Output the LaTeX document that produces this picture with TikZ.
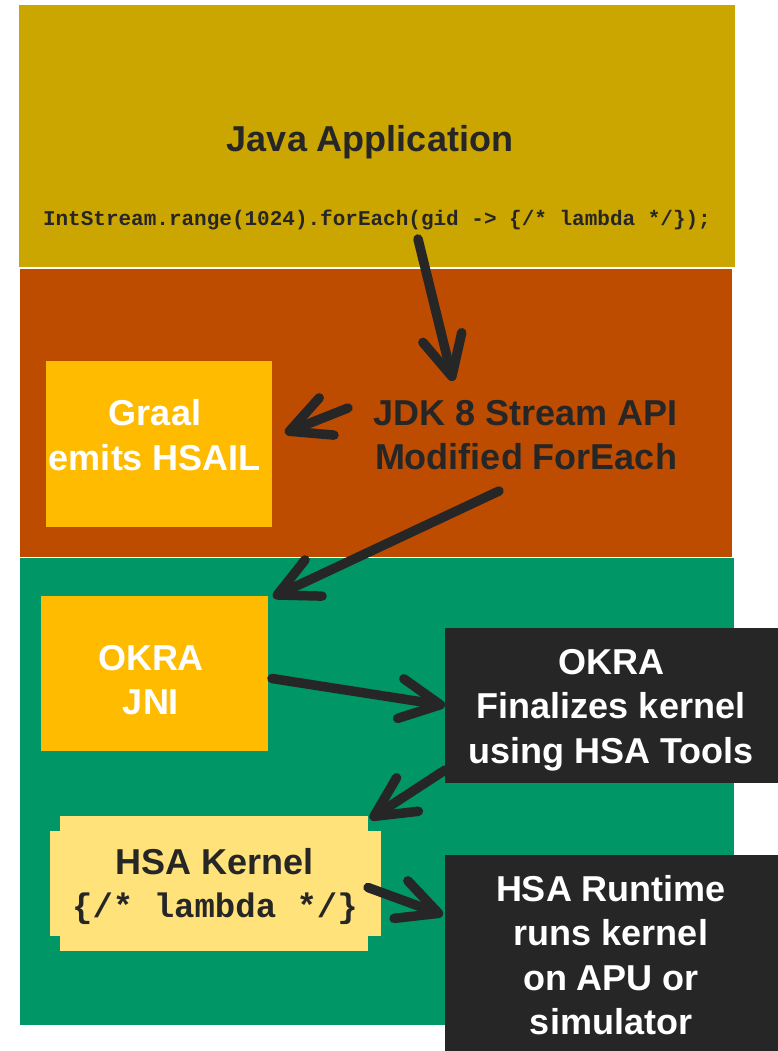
\documentclass[tikz,border=0pt]{standalone}
\usepackage{fontspec}
\setmainfont{Liberation Sans}
\setmonofont{Liberation Mono}
\usetikzlibrary{arrows.meta,calc}

\definecolor{javayellow}{RGB}{204,166,0}
\definecolor{streamorange}{RGB}{189,76,0}
\definecolor{okragreen}{RGB}{0,150,102}
\definecolor{boxgold}{RGB}{255,187,0}
\definecolor{kernelyellow}{RGB}{255,226,122}
\definecolor{darkgrey}{RGB}{38,38,38}

\begin{document}
\begin{tikzpicture}[
        % pixel-like units, y pointing down
        x=1pt, y=-1pt,
        %
        panel/.style={anchor=north west, inner sep=0pt, outer sep=0pt},
        stepbox/.style={inner sep=0pt, outer sep=0pt},
        bigtext/.style={font=\fontsize{36}{44.5}\selectfont\bfseries,
            align=center, text=darkgrey},
        lighttext/.style={bigtext, text=white},
        codetext/.style={font=\ttfamily\bfseries, text=darkgrey},
        flow/.style={draw=darkgrey, line width=9.5pt, line cap=round,
            -{Straight Barb[round,length=40pt,width=40pt]}}
    ]

        % Fix the page size
        \useasboundingbox (0,0) rectangle (778,1051);

        % Draw the three layers
        \node[panel, fill=javayellow, minimum width=716pt, minimum height=262pt]
            (javapanel) at (19,5) {};
        \node[panel, fill=streamorange, minimum width=712pt, minimum height=288pt]
            (streampanel) at (20,269) {};
        \node[panel, fill=okragreen, minimum width=714pt, minimum height=467pt]
            (okrapanel) at (20,558) {};

        % Java layer texts
        \node[bigtext] (java) at (370,142) {Java Application};
        \node[codetext, font=\fontsize{21}{21}\selectfont\ttfamily\bfseries]
            (code) at (377,220) {IntStream.range(1024).forEach(gid -> \{/* lambda */\});};

        % Stream layer
        \node[stepbox, fill=boxgold, minimum width=226pt, minimum height=166pt]
            (graal) at (159,444) {};
        \node[lighttext] (graaltext) at (155,435) {Graal\\emits HSAIL};
        \node[bigtext] (jdk) at (526,435) {JDK 8 Stream API\\Modified ForEach};

        % OKRA layer
        \node[stepbox, fill=boxgold, minimum width=227pt, minimum height=155pt]
            (jni) at (154.5,673.5) {};
        \node[lighttext] (jnitext) at (151,680) {OKRA\\JNI};
        \node[stepbox, fill=darkgrey, minimum width=333pt, minimum height=155pt]
            (okra) at (611.5,705.5) {};
        \node[lighttext] (okratext) at (611,710) {OKRA\\Finalizes kernel\\using HSA Tools};

        % Kernel box with cut corners
        \node[stepbox, fill=kernelyellow, minimum width=331pt, minimum height=105pt]
            (kernelwide) at (215.5,883.5) {};
        \node[stepbox, fill=kernelyellow, minimum width=308pt, minimum height=135pt]
            (kernel) at (214,883.5) {};
        \node[bigtext] (kerneltext) at (215,862) {HSA Kernel};
        \node[codetext, font=\fontsize{34}{34}\selectfont\ttfamily\bfseries]
            (lambda) at (215,909) {\{/* lambda */\}};

        \node[stepbox, fill=darkgrey, minimum width=333pt, minimum height=196pt]
            (runtime) at (611.5,953) {};
        \node[lighttext] (runtimetext) at (611,955)
            {HSA Runtime\\runs kernel\\on APU or\\simulator};

        % Draw the flow arrows
        \draw[flow] ($(code)+(41,19)$) -- ($(jdk)+(-73,-54)$);
        \draw[flow] ($(jdk)+(-178,-27)$) -- ($(graal.east)+(13,-11)$);
        \draw[flow] ($(jdk)+(-27,56)$) -- ($(jni.north east)+(5,1)$);
        \draw[flow] ($(jni.east)+(4,5)$) -- (okra.west);
        \draw[flow] ($(okra.south west)+(0,-13)$) -- ($(kernel.north east)+(2,3)$);
        \draw[flow] ($(kernel.east)+(0,4)$) -- ($(runtime.west)+(-2,-38)$);

    \end{tikzpicture}
\end{document}
